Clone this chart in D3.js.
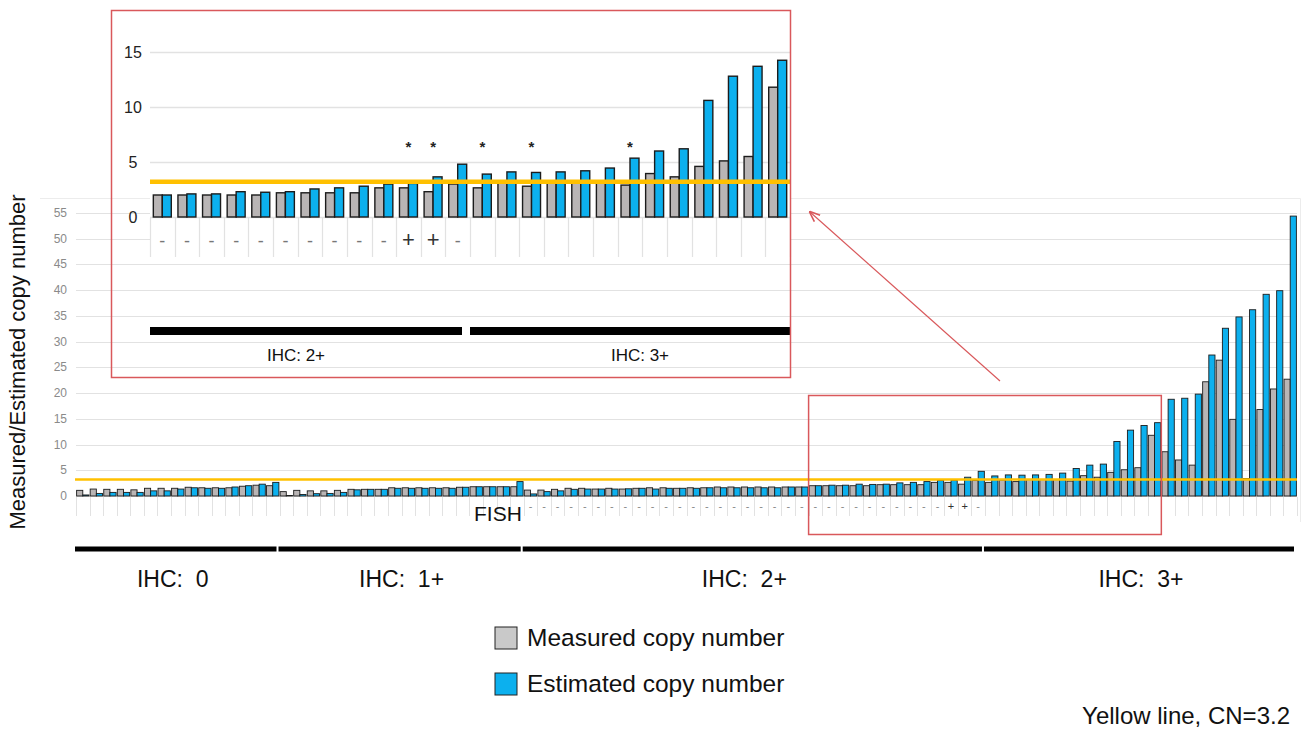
<!DOCTYPE html>
<html>
<head>
<meta charset="utf-8">
<script src="https://cdn.jsdelivr.net/npm/d3@7"></script>
<style>
  body { margin: 0; background: #fff; }
  svg { display: block; }
</style>
</head>
<body>
<svg id="chart" width="1304" height="730"></svg>
<script>
// ---- data -------------------------------------------------------------
const groupNames = ["IHC: 0", "IHC: 1+", "IHC: 2+", "IHC: 3+"];
const groupSizes = [15, 18, 34, 23];

// measured copy number per case, ordered as plotted
const measured = [
  // IHC 0
  1.1, 1.35, 1.3, 1.3, 1.2, 1.5, 1.5, 1.5, 1.7, 1.6, 1.6, 1.6, 1.9, 2.1, 2.0,
  // IHC 1+
  0.85, 1.1, 1.0, 1.0, 1.1, 1.3, 1.3, 1.3, 1.6, 1.6, 1.6, 1.6, 1.6, 1.7, 1.8, 1.8, 1.8, 1.8,
  // IHC 2+
  1.15, 1.15, 1.3, 1.5, 1.5, 1.35, 1.5, 1.35, 1.5, 1.6, 1.6, 1.5, 1.6, 1.6, 1.75, 1.75, 1.75,
  1.75, 1.75, 1.75, 1.75, 2.0, 2.0, 2.0, 2.0, 2.0, 2.2, 2.2, 2.2, 2.2, 2.65, 2.65, 2.3, 3.0,
  // IHC 3+
  2.65, 3.1, 2.8, 3.2, 3.2, 3.2, 2.9, 3.95, 3.65, 4.6, 5.1, 5.5, 11.8,
  8.6, 7.0, 6.0, 22.2, 26.4, 14.9, 3.4, 16.8, 20.8, 22.7
];

// estimated copy number per case
const estimated = [
  // IHC 0
  0.2, 0.5, 0.7, 0.7, 0.7, 1.0, 1.0, 1.35, 1.6, 1.5, 1.5, 1.75, 2.0, 2.3, 2.65,
  // IHC 1+
  0.1, 0.3, 0.45, 0.5, 0.7, 1.2, 1.3, 1.3, 1.5, 1.5, 1.5, 1.5, 1.5, 1.7, 1.8, 1.8, 1.8, 2.8,
  // IHC 2+
  0.4, 0.85, 1.0, 1.3, 1.35, 1.35, 1.35, 1.4, 1.5, 1.35, 1.5, 1.5, 1.5, 1.6, 1.6, 1.6, 1.6,
  1.6, 1.6, 1.75, 1.75, 2.0, 2.1, 2.1, 2.3, 2.25, 2.3, 2.55, 2.65, 2.8, 3.0, 3.05, 3.65, 4.8,
  // IHC 3+
  3.9, 4.1, 4.05, 4.1, 4.2, 4.45, 5.35, 6.0, 6.2, 10.6, 12.8, 13.7, 14.25,
  18.8, 19.0, 19.8, 27.4, 32.6, 34.8, 36.2, 39.2, 39.9, 54.4
];

// FISH result per case ("" = not tested)
const fishResult = [
  // IHC 0
  "", "", "", "", "", "", "", "", "", "", "", "", "", "", "",
  // IHC 1+
  "", "", "", "", "", "", "", "", "", "", "", "", "", "", "", "", "", "",
  // IHC 2+
  "-", "-", "-", "-", "-", "-", "-", "-", "-", "-", "-", "-", "-", "-", "-", "-", "-",
  "-", "-", "-", "-", "-", "-", "-", "-", "-", "-", "-", "-", "-", "-", "+", "+", "-",
  // IHC 3+
  "", "", "", "", "", "", "", "", "", "", "", "", "",
  "", "", "", "", "", "", "", "", "", ""
];

// cases flagged with an asterisk in the enlarged view
const starredCases = [64, 65, 67, 69, 73];

const cases = d3.range(measured.length);
const cutoff = 3.2;
const mainTicks = [0, 5, 10, 15, 20, 25, 30, 35, 40, 45, 50, 55];
const insetTicks = [0, 5, 10, 15];
const zoomFirst = 54, zoomLast = 79;      // cases shown in the enlarged view
const seriesKeys = ["measured", "estimated"];
const seriesNames = ["Measured copy number", "Estimated copy number"];

// ---- styling ----------------------------------------------------------
const grayFill = "#b9b5b5";
const blueFill = "#0cb0ee";
const barStroke = "#1c1c1c";
const gold = "#ffc000";
const red = "#d9585b";
const gridColor = "#e2e2e2";
const sans = "'Liberation Sans', Arial, sans-serif";

const svg = d3.select("#chart");
const fills = { measured: grayFill, estimated: blueFill };
const rows = cases.map(i => ({ id: i, measured: measured[i], estimated: estimated[i] }));

// group boundaries (start index of each IHC group)
const groupStarts = groupSizes.map((s, i) => d3.sum(groupSizes.slice(0, i)));

// ---- main chart -------------------------------------------------------
const x = d3.scaleBand().domain(cases).range([76, 1297]).padding(0);
const xs = d3.scaleBand().domain(seriesKeys).range([0, x.bandwidth()]).paddingInner(0).paddingOuter(0.1);
const y = d3.scaleLinear().domain([0, 55]).range([496, 213]);

const main = svg.append("g");

// outer frame
main.append("path")
  .attr("d", "M40,198.5H1300.5V522")
  .attr("fill", "none").attr("stroke", "#ececec").attr("stroke-width", 1);

// horizontal grid
main.append("g").selectAll("line").data(mainTicks).join("line")
  .attr("x1", 76).attr("x2", 1297)
  .attr("y1", d => Math.round(y(d)) + 0.5).attr("y2", d => Math.round(y(d)) + 0.5)
  .attr("stroke", gridColor).attr("stroke-width", 1.2);

// y tick labels
main.append("g").selectAll("text").data(mainTicks).join("text")
  .attr("x", 67).attr("y", d => y(d) + 4)
  .attr("text-anchor", "end")
  .attr("font-family", sans).attr("font-size", 12).attr("fill", "#8a8a8a")
  .text(d => d);

// data-table cell dividers below the axis
main.append("g").selectAll("line").data(d3.range(cases.length + 1)).join("line")
  .attr("x1", i => Math.round(76 + i * x.step()) + 0.5)
  .attr("x2", i => Math.round(76 + i * x.step()) + 0.5)
  .attr("y1", 497).attr("y2", 516)
  .attr("stroke", gridColor).attr("stroke-width", 1);

// bars
main.append("g").selectAll("g").data(rows).join("g")
  .attr("transform", d => `translate(${x(d.id)},0)`)
  .selectAll("rect").data(d => seriesKeys.map(k => ({ key: k, value: d[k] }))).join("rect")
  .attr("x", d => xs(d.key)).attr("width", xs.bandwidth())
  .attr("y", d => y(d.value)).attr("height", d => y(0) - y(d.value))
  .attr("fill", d => fills[d.key]).attr("stroke", barStroke).attr("stroke-width", 0.9);

// cutoff line
main.append("line")
  .attr("x1", 75).attr("x2", 1297).attr("y1", y(cutoff)).attr("y2", y(cutoff))
  .attr("stroke", gold).attr("stroke-width", 2.5);

// FISH row
main.append("text")
  .attr("x", 474).attr("y", 521)
  .attr("font-family", sans).attr("font-size", 21).attr("fill", "#111")
  .text("FISH");
main.append("g").selectAll("text").data(rows.filter(d => fishResult[d.id] !== "")).join("text")
  .attr("x", d => x(d.id) + x.bandwidth() / 2).attr("y", 510)
  .attr("text-anchor", "middle")
  .attr("font-family", sans).attr("font-size", 11)
  .attr("fill", d => fishResult[d.id] === "+" ? "#333" : "#888")
  .text(d => fishResult[d.id]);

// IHC group bars and labels
const groups = groupNames.map((name, i) => ({
  name,
  x0: x(groupStarts[i]),
  x1: x(groupStarts[i] + groupSizes[i] - 1) + x.step()
}));
main.append("g").selectAll("line").data(groups).join("line")
  .attr("x1", d => d.x0 - 1).attr("x2", d => d.x1 - 3)
  .attr("y1", 549).attr("y2", 549)
  .attr("stroke", "#000").attr("stroke-width", 5);
main.append("g").selectAll("text").data(groups).join("text")
  .attr("x", (d, i) => (d.x0 + d.x1) / 2 + (i === 0 ? -5 : 0) + (i === 2 ? -10 : 0))
  .attr("y", 587)
  .attr("text-anchor", "middle")
  .attr("font-family", sans).attr("font-size", 23).attr("fill", "#111")
  .attr("xml:space", "preserve")
  .text(d => d.name.replace(": ", ":  "));

// y-axis title
svg.append("text")
  .attr("transform", "translate(25,362) rotate(-90)")
  .attr("text-anchor", "middle")
  .attr("font-family", sans).attr("font-size", 22).attr("fill", "#111")
  .text("Measured/Estimated copy number");

// legend
const legend = svg.append("g").selectAll("g").data(seriesKeys).join("g")
  .attr("transform", (d, i) => `translate(495,${627 + i * 46})`);
legend.append("rect")
  .attr("width", 22).attr("height", 22)
  .attr("fill", d => d === "measured" ? "#c9c9c9" : blueFill)
  .attr("stroke", "#222").attr("stroke-width", 1);
legend.append("text")
  .attr("x", 32).attr("y", 19)
  .attr("font-family", sans).attr("font-size", 24.5).attr("fill", "#111")
  .text((d, i) => seriesNames[i]);

svg.append("text")
  .attr("x", 1290).attr("y", 724).attr("text-anchor", "end")
  .attr("font-family", sans).attr("font-size", 24).attr("fill", "#111")
  .text("Yellow line, CN=" + cutoff);

// ---- enlarged view ----------------------------------------------------
const zoomCases = cases.slice(zoomFirst, zoomLast + 1);
const zoomRows = rows.slice(zoomFirst, zoomLast + 1);
const xi = d3.scaleBand().domain(zoomCases).range([150, 790]).padding(0);
const xis = d3.scaleBand().domain(seriesKeys).range([0, xi.bandwidth()]).paddingInner(0).paddingOuter(0.37);
const yi = d3.scaleLinear().domain([0, 17]).range([217, 30]);

const inset = svg.append("g");
inset.append("rect")
  .attr("x", 150).attr("y", 12).attr("width", 640).attr("height", 248)
  .attr("fill", "#fff");

inset.append("g").selectAll("line").data(insetTicks).join("line")
  .attr("x1", 150).attr("x2", 790)
  .attr("y1", d => Math.round(yi(d)) + 0.5).attr("y2", d => Math.round(yi(d)) + 0.5)
  .attr("stroke", gridColor).attr("stroke-width", 1.5);

inset.append("g").selectAll("text").data(insetTicks).join("text")
  .attr("x", 133).attr("y", d => yi(d) + 6)
  .attr("text-anchor", "middle")
  .attr("font-family", sans).attr("font-size", 16).attr("fill", "#222")
  .text(d => d);

inset.append("g").selectAll("line").data(d3.range(zoomCases.length + 1)).join("line")
  .attr("x1", i => Math.round(150 + i * xi.step()) + 0.5)
  .attr("x2", i => Math.round(150 + i * xi.step()) + 0.5)
  .attr("y1", 218).attr("y2", 257)
  .attr("stroke", gridColor).attr("stroke-width", 1.2);

inset.append("g").selectAll("g").data(zoomRows).join("g")
  .attr("transform", d => `translate(${xi(d.id)},0)`)
  .selectAll("rect").data(d => seriesKeys.map(k => ({ key: k, value: d[k] }))).join("rect")
  .attr("x", d => xis(d.key)).attr("width", xis.bandwidth())
  .attr("y", d => yi(d.value)).attr("height", d => yi(0) - yi(d.value))
  .attr("fill", d => fills[d.key]).attr("stroke", barStroke).attr("stroke-width", 1.4);

inset.append("line")
  .attr("x1", 150).attr("x2", 790).attr("y1", yi(cutoff)).attr("y2", yi(cutoff))
  .attr("stroke", gold).attr("stroke-width", 4.5);

inset.append("g").selectAll("text").data(starredCases).join("text")
  .attr("x", d => xi(d) + xi.bandwidth() / 2).attr("y", 152)
  .attr("text-anchor", "middle")
  .attr("font-family", sans).attr("font-size", 15).attr("font-weight", "bold").attr("fill", "#222")
  .text("*");

inset.append("g").selectAll("text").data(zoomRows.filter(d => fishResult[d.id] !== "")).join("text")
  .attr("x", d => xi(d.id) + xi.bandwidth() / 2).attr("y", 247)
  .attr("text-anchor", "middle")
  .attr("font-family", sans)
  .attr("font-size", d => fishResult[d.id] === "+" ? 22 : 18)
  .attr("fill", d => fishResult[d.id] === "+" ? "#333" : "#777")
  .text(d => fishResult[d.id]);

// IHC bars within the enlarged view
const zoomGroups = groups
  .map((g, i) => ({
    name: g.name,
    a: Math.max(groupStarts[i], zoomFirst),
    b: Math.min(groupStarts[i] + groupSizes[i] - 1, zoomLast)
  }))
  .filter(g => g.a <= g.b)
  .map(g => ({ name: g.name, x0: xi(g.a), x1: xi(g.b) + xi.step() }));
inset.append("g").selectAll("line").data(zoomGroups).join("line")
  .attr("x1", d => d.x0).attr("x2", (d, i) => i === zoomGroups.length - 1 ? d.x1 : d.x1 - 8)
  .attr("y1", 331).attr("y2", 331)
  .attr("stroke", "#000").attr("stroke-width", 8);
inset.append("g").selectAll("text").data(zoomGroups).join("text")
  .attr("x", (d, i) => (d.x0 + d.x1) / 2 + (i === 0 ? -14 : 10)).attr("y", 361)
  .attr("text-anchor", "middle")
  .attr("font-family", sans).attr("font-size", 17).attr("fill", "#111")
  .text(d => d.name);

inset.append("rect")
  .attr("x", 111.5).attr("y", 10.5).attr("width", 679).attr("height", 367)
  .attr("fill", "none").attr("stroke", red).attr("stroke-width", 1.5);

// highlighted region in the main chart and the pointer to the enlarged view
svg.append("rect")
  .attr("x", x(zoomFirst)).attr("y", 395.5)
  .attr("width", x(zoomLast) + x.step() - x(zoomFirst)).attr("height", 139)
  .attr("fill", "none").attr("stroke", red).attr("stroke-width", 1.5);

svg.append("defs").append("marker")
  .attr("id", "head").attr("viewBox", "0 0 10 10")
  .attr("refX", 9).attr("refY", 5)
  .attr("markerWidth", 9).attr("markerHeight", 9)
  .attr("orient", "auto")
  .append("path").attr("d", "M0,1L10,5L0,9").attr("fill", "none").attr("stroke", red).attr("stroke-width", 1.5);

svg.append("line")
  .attr("x1", 1000).attr("y1", 381).attr("x2", 810).attr("y2", 212)
  .attr("stroke", red).attr("stroke-width", 1.2)
  .attr("marker-end", "url(#head)");
</script>
</body>
</html>
